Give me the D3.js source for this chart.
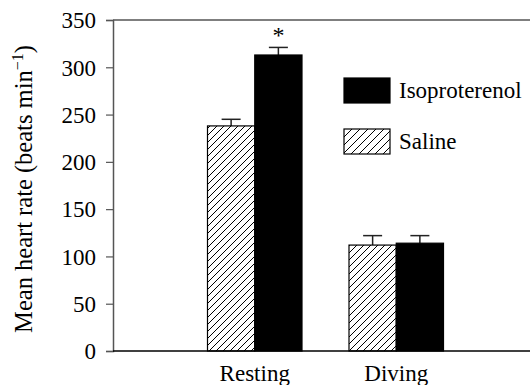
<!DOCTYPE html>
<html>
<head>
<meta charset="utf-8">
<script src="https://cdn.jsdelivr.net/npm/d3@7"></script>
<style>
  body { margin: 0; background: #fff; }
</style>
</head>
<body>
<div id="container"></div>
<script>
// data
var conditions = ["Resting", "Diving"];
var treatments = ["Saline", "Isoproterenol"];
var salineMean = [238, 112];
var salineErr = [7, 10];
var isoMean = [313, 114];
var isoErr = [8, 8];
var yTicks = [0, 50, 100, 150, 200, 250, 300, 350];
var significant = [true, false];

var width = 530, height = 385;
var margin = { top: 20, right: 0, bottom: 34, left: 113 };
var serif = "Liberation Serif";

var svg = d3.select("#container").append("svg")
  .attr("width", width)
  .attr("height", height);

// every label goes through this so font and size are set on the element itself
function label(sel, size) {
  return sel
    .style("font-family", serif)
    .style("font-size", size + "px")
    .attr("fill", "#000");
}

// hatch pattern for saline bars
var defs = svg.append("defs");
function hatch(id, gap) {
  var p = defs.append("pattern")
    .attr("id", id)
    .attr("patternUnits", "userSpaceOnUse")
    .attr("width", gap)
    .attr("height", gap);
  p.append("rect").attr("width", gap).attr("height", gap).attr("fill", "#fff");
  p.append("path")
    .attr("d", "M-1,1 l2,-2 M0," + gap + " l" + gap + ",-" + gap + " M" + (gap - 1) + "," + (gap + 1) + " l2,-2")
    .attr("stroke", "#000")
    .attr("stroke-width", 1);
}
hatch("hatchBar", 7);
hatch("hatchLegend", 8);

var y = d3.scaleLinear().domain([0, 350]).range([height - margin.bottom, margin.top]);
var x = d3.scaleBand().domain(conditions).range([184, 467]).padding(0);
var xs = d3.scaleBand().domain(treatments).range([23.5, 118]);

// y axis
var yAxis = svg.append("g")
  .attr("transform", "translate(" + margin.left + ",0)")
  .call(d3.axisLeft(y).tickValues(yTicks).tickSize(7).tickPadding(10).tickFormat(d3.format("d")));
yAxis.select(".domain").attr("stroke", "#555").attr("stroke-width", 1.5);
yAxis.selectAll(".tick line").attr("stroke", "#555").attr("stroke-width", 1.2);
label(yAxis.selectAll(".tick text"), 23).attr("dy", "0.34em");

// top frame line
svg.append("line")
  .attr("x1", margin.left).attr("x2", width)
  .attr("y1", y(350)).attr("y2", y(350))
  .attr("stroke", "#555").attr("stroke-width", 1.5);

// y label
label(svg.append("text"), 24.5)
  .attr("transform", "translate(32,189) rotate(-90)")
  .attr("text-anchor", "middle")
  .html("Mean heart rate (beats min<tspan dy='-9' font-size='16'>−1</tspan><tspan dy='9'>)</tspan>");

// bars
var rows = conditions.map(function (c, i) {
  return [
    { cond: c, t: "Saline", v: salineMean[i], e: salineErr[i] },
    { cond: c, t: "Isoproterenol", v: isoMean[i], e: isoErr[i] }
  ];
});
var flat = [].concat.apply([], rows);

// error bars (upper only)
var err = svg.append("g").selectAll("g").data(flat).enter().append("g");
err.append("line")
  .attr("x1", function (d) { return x(d.cond) + xs(d.t) + xs.bandwidth() / 2; })
  .attr("x2", function (d) { return x(d.cond) + xs(d.t) + xs.bandwidth() / 2; })
  .attr("y1", function (d) { return y(d.v); })
  .attr("y2", function (d) { return y(d.v + d.e); })
  .attr("stroke", "#222").attr("stroke-width", 1.5);
err.append("line")
  .attr("x1", function (d) { return x(d.cond) + xs(d.t) + xs.bandwidth() / 2 - 9.5; })
  .attr("x2", function (d) { return x(d.cond) + xs(d.t) + xs.bandwidth() / 2 + 9.5; })
  .attr("y1", function (d) { return y(d.v + d.e); })
  .attr("y2", function (d) { return y(d.v + d.e); })
  .attr("stroke", "#222").attr("stroke-width", 1.5);

svg.append("g").selectAll("rect").data(flat).enter().append("rect")
  .attr("x", function (d) { return x(d.cond) + xs(d.t); })
  .attr("y", function (d) { return y(d.v); })
  .attr("width", xs.bandwidth())
  .attr("height", function (d) { return y(0) - y(d.v); })
  .attr("fill", function (d) { return d.t == "Saline" ? "url(#hatchBar)" : "#000"; })
  .attr("stroke", "#000")
  .attr("stroke-width", 1.2);

// significance marker
label(svg.append("g").selectAll("text").data(flat.filter(function (d) {
  return d.t == "Isoproterenol" && significant[conditions.indexOf(d.cond)];
})).enter().append("text"), 24)
  .attr("x", function (d) { return x(d.cond) + xs(d.t) + xs.bandwidth() / 2; })
  .attr("y", function (d) { return y(d.v + d.e) - 4; })
  .attr("text-anchor", "middle")
  .text("*");

// bottom axis line
svg.append("line")
  .attr("x1", margin.left).attr("x2", width)
  .attr("y1", y(0)).attr("y2", y(0))
  .attr("stroke", "#000").attr("stroke-width", 1.5);

// x labels
label(svg.append("g").selectAll("text").data(conditions).enter().append("text"), 23)
  .attr("x", function (d) { return x(d) + x.bandwidth() / 2; })
  .attr("y", 381)
  .attr("text-anchor", "middle")
  .text(function (d) { return d; });

// legend
var legend = [
  { t: "Isoproterenol", fill: "#000", y: 78 },
  { t: "Saline", fill: "url(#hatchLegend)", y: 129 }
];
var lg = svg.append("g").selectAll("g").data(legend).enter().append("g")
  .attr("transform", function (d) { return "translate(344," + d.y + ")"; });
lg.append("rect")
  .attr("width", 46).attr("height", 25)
  .attr("fill", function (d) { return d.fill; })
  .attr("stroke", "#000").attr("stroke-width", 1.2);
label(lg.append("text"), 23)
  .attr("x", 55).attr("y", 20)
  .text(function (d) { return d.t; });
</script>
</body>
</html>
